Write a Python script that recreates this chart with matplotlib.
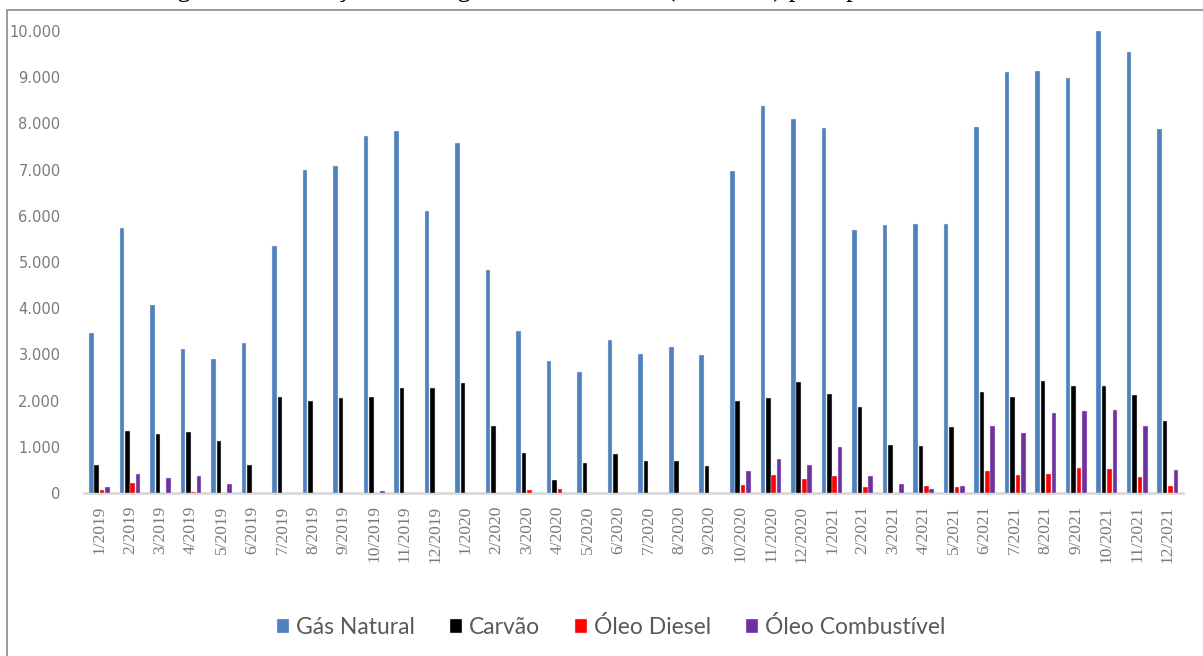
import matplotlib
matplotlib.use("Agg")
import matplotlib.pyplot as plt
from matplotlib.patches import Rectangle
import numpy as np

# Monthly thermal generation by fuel (GWh)
months = [f"{m}/{y}" for y in (2019, 2020, 2021) for m in range(1, 13)]

gas_natural = [3460, 5740, 4070, 3120, 2900, 3250, 5350, 6990, 7080, 7730, 7840, 6100,
               7580, 4830, 3510, 2860, 2620, 3310, 3010, 3160, 2990, 6970, 8380, 8090,
               7900, 5690, 5800, 5820, 5820, 7920, 9110, 9130, 8980, 10000, 9550, 7880]
carvao = [610, 1340, 1280, 1320, 1130, 610, 2080, 1990, 2060, 2080, 2270, 2270,
          2380, 1450, 870, 280, 650, 840, 690, 690, 580, 1990, 2050, 2400,
          2140, 1870, 1040, 1020, 1420, 2190, 2070, 2420, 2320, 2320, 2120, 1560]
oleo_diesel = [60, 220, 0, 30, 0, 0, 0, 0, 0, 0, 0, 0,
               0, 0, 60, 90, 0, 0, 0, 0, 0, 170, 390, 300,
               370, 120, 0, 150, 120, 470, 390, 420, 540, 510, 340, 150]
oleo_combustivel = [140, 420, 320, 370, 190, 0, 0, 0, 0, 40, 0, 0,
                    0, 0, 0, 0, 0, 0, 0, 0, 0, 470, 740, 600,
                    990, 370, 190, 90, 150, 1460, 1290, 1740, 1770, 1790, 1460, 490]

series = [
    ("Gás Natural", gas_natural, "#4f81bd"),
    ("Carvão", carvao, "#000000"),
    ("Óleo Diesel", oleo_diesel, "#ff0000"),
    ("Óleo Combustível", oleo_combustivel, "#7030a0"),
]

caption = "Figura 3 – Evolução da energia térmica mensal (em GWh) por tipo de combustível"

fig = plt.figure(figsize=(12.03, 6.56), dpi=100)
ax = fig.add_axes([0.0700, 0.2485, 0.9134, 0.7043])

x = np.arange(len(months))
step = 0.178
width = 0.15
for i, (name, vals, color) in enumerate(series):
    ax.bar(x + (i - 1.5) * step, vals, width=width, color=color,
           edgecolor="#dfe6f0", linewidth=0.3, label=name, zorder=2)

ax.set_xlim(-0.5, len(months) - 0.5)
ax.set_ylim(0, 10000)

yt = np.arange(0, 10001, 1000)
ax.set_yticks(yt)
ax.set_yticklabels(["0" if v == 0 else f"{v:,}".replace(",", ".") for v in yt],
                   fontsize=10.5, color="#7a7a7a", family="DejaVu Sans")
ax.tick_params(axis="y", length=0, pad=17)

ax.set_xticks(x)
ax.set_xticklabels(months, rotation=90, fontsize=12.5, color="#7a7a7a",
                   family="Liberation Serif", va="top", ha="center")
ax.tick_params(axis="x", length=0, pad=9)

for side in ("top", "right", "left"):
    ax.spines[side].set_visible(False)
ax.spines["bottom"].set_color("#d9d9d9")
ax.spines["bottom"].set_linewidth(2)
ax.spines["bottom"].set_zorder(1)

leg = fig.legend(loc="center", bbox_to_anchor=(0.508, 0.044), ncol=4, frameon=False,
                 prop={"family": "Lato", "size": 16.5}, handlelength=0.55, handleheight=0.55,
                 handletextpad=0.3, columnspacing=1.5)
for t in leg.get_texts():
    t.set_color("#595959")

# Outer frame around the chart area
fig.patches.append(Rectangle((7 / 1203, -0.01), 1.0, 1 - 9.5 / 656 + 0.01,
                             transform=fig.transFigure, fill=False,
                             edgecolor="#8c8c8c", linewidth=1.2))

# Figure caption sitting just above the frame, running off the top edge
fig.text(155 / 1203, 1 + 4.5 / 656, caption,
         ha="left", va="baseline", fontsize=19.4, family="Liberation Serif", color="black")

fig.savefig("out.png", dpi=100)
